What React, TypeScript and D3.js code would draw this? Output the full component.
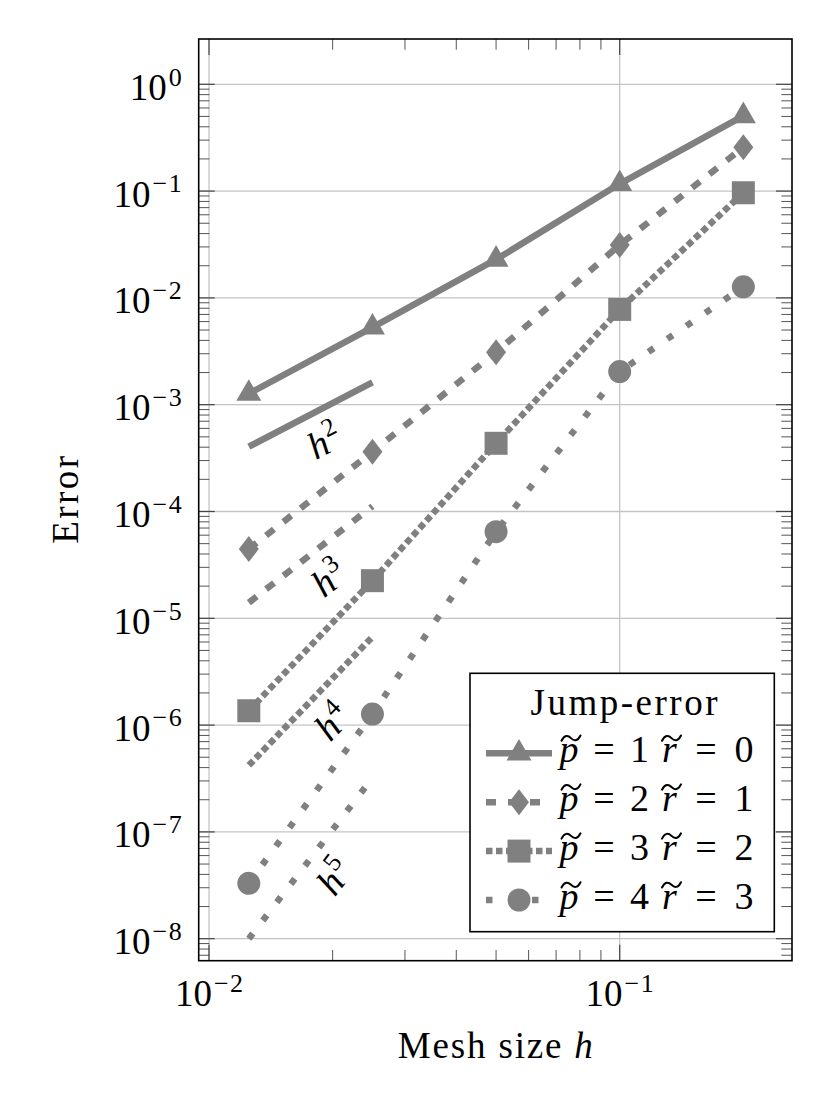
import React from 'react';
import * as d3 from 'd3';

// ---------- data ----------
const meshSizes = [0.0125, 0.025, 0.05, 0.1, 0.2];
const errP1 = [1.27e-3, 5.3e-3, 2.29e-2, 0.117, 0.505];
const errP2 = [4.45e-5, 3.63e-4, 3.1e-3, 3.13e-2, 0.257];
const errP3 = [1.36e-6, 2.25e-5, 4.35e-4, 7.8e-3, 0.0966];
const errP4 = [3.3e-8, 1.27e-6, 6.47e-5, 2.04e-3, 0.0127];
const pTilde = ['1', '2', '3', '4'];
const rTilde = ['0', '1', '2', '3'];

const refMesh = [0.0125, 0.025];
const refOrders = ['2', '3', '4', '5'];
const refStart = [4.04e-4, 1.4e-5, 4.2e-7, 1.0e-8];
const refEnd = [1.616e-3, 1.12e-4, 6.7e-6, 3.2e-7];

const xTickExps = [-2, -1];
const yTickExps = [0, -1, -2, -3, -4, -5, -6, -7, -8];
const minorMults = [2, 3, 4, 5, 6, 7, 8, 9];

// ---------- style ----------
const W = 832;
const H = 1110;
const L = 198.7, R = 792, T = 39, B = 960.7;
const GRAY = '#808080';
const LW = 6.5;
const FONT = '"Liberation Serif", "Times New Roman", serif';
const dashes = [null, '10 12', '6.5 3.5', '6.5 16.5'];
const markers = ['triangle', 'diamond', 'square', 'circle'];
const seriesValues = [errP1, errP2, errP3, errP4];

const x = d3.scaleLog().domain([Math.pow(10, -2.0251), Math.pow(10, -0.5805)]).range([L, R]);
const y = d3.scaleLog().domain([Math.pow(10, -8.206), Math.pow(10, 0.424)]).range([B, T]);

const lineGen = d3.line<[number, number]>().x(d => x(d[0])).y(d => y(d[1]));

function markerPath(kind: string): string {
  switch (kind) {
    case 'triangle':
      return 'M0,-14.4L12.5,7.2L-12.5,7.2Z';
    case 'diamond':
      return 'M0,-13L10,0L0,13L-10,0Z';
    case 'square':
      return 'M-11.5,-11.5H11.5V11.5H-11.5Z';
    default:
      return 'M-11.5,0A11.5,11.5 0 1,0 11.5,0A11.5,11.5 0 1,0 -11.5,0Z';
  }
}

function Marker({ kind, cx, cy }: { kind: string; cx: number; cy: number }) {
  return <path d={markerPath(kind)} transform={`translate(${cx},${cy})`} fill={GRAY} stroke="none" />;
}

// wide tilde accent (\widetilde) drawn over a glyph
const TILDE = 'M-9.5,2.5C-6.5,-3.5 -3,-3.2 0,-0.2C3,2.8 6.5,3.2 9.5,-2.8';

export default function App() {
  const xMajors = xTickExps.map(e => Math.pow(10, e));
  const yMajors = yTickExps.map(e => Math.pow(10, e));
  const [xd0, xd1] = x.domain();
  const [yd0, yd1] = y.domain();
  const xMinors: number[] = [];
  for (let e = xTickExps[0] - 1; e < xTickExps[xTickExps.length - 1]; e++) {
    minorMults.forEach(m => {
      const v = m * Math.pow(10, e);
      if (v > xd0 && v < xd1) xMinors.push(v);
    });
  }
  const yMinors: number[] = [];
  for (let e = yTickExps[yTickExps.length - 1] - 1; e < yTickExps[0]; e++) {
    minorMults.forEach(m => {
      const v = m * Math.pow(10, e);
      if (v > yd0 && v < yd1) yMinors.push(v);
    });
  }

  const legendX = 470, legendY = 673.3, legendW = 304.3, legendH = 258.4;
  const rowY0 = 753.3, rowStep = 48.9;
  const lineX0 = 486, lineX1 = 552;
  const glyphOffsets = [83, 118, 153.5, 183.5, 220, 258];

  return (
    <svg width={W} height={H} style={{ position: 'absolute', left: 0, top: 0, display: 'block' }} fontFamily={FONT}>
      <rect x={0} y={0} width={W} height={H} fill="#fff" />
      <defs>
        <clipPath id="plotClip">
          <rect x={L} y={T} width={R - L} height={B - T} />
        </clipPath>
      </defs>

      {/* grid */}
      {xMajors.map((v, i) => (
        <line key={'gx' + i} x1={x(v)} x2={x(v)} y1={T} y2={B} stroke="#c4c4c4" strokeWidth={1.3} />
      ))}
      {yMajors.map((v, i) => (
        <line key={'gy' + i} x1={L} x2={R} y1={y(v)} y2={y(v)} stroke="#c4c4c4" strokeWidth={1.3} />
      ))}

      {/* ticks */}
      {xMinors.map((v, i) => (
        <g key={'xm' + i} stroke="#555" strokeWidth={1}>
          <line x1={x(v)} x2={x(v)} y1={B} y2={B - 10.7} />
          <line x1={x(v)} x2={x(v)} y1={T} y2={T + 10.7} />
        </g>
      ))}
      {yMinors.map((v, i) => (
        <g key={'ym' + i} stroke="#555" strokeWidth={1}>
          <line x1={L} x2={L + 10.7} y1={y(v)} y2={y(v)} />
          <line x1={R} x2={R - 10.7} y1={y(v)} y2={y(v)} />
        </g>
      ))}
      {xMajors.map((v, i) => (
        <g key={'xM' + i} stroke="#444" strokeWidth={1.2}>
          <line x1={x(v)} x2={x(v)} y1={B} y2={B - 16} />
          <line x1={x(v)} x2={x(v)} y1={T} y2={T + 16} />
        </g>
      ))}
      {yMajors.map((v, i) => (
        <g key={'yM' + i} stroke="#444" strokeWidth={1.2}>
          <line x1={L} x2={L + 16} y1={y(v)} y2={y(v)} />
          <line x1={R} x2={R - 16} y1={y(v)} y2={y(v)} />
        </g>
      ))}

      {/* series and reference slopes */}
      <g clipPath="url(#plotClip)">
        {seriesValues.map((vals, si) => {
          const pts = meshSizes.map((h, i) => [h, vals[i]] as [number, number]);
          return (
            <g key={'s' + si}>
              <path d={lineGen(pts) || ''} fill="none" stroke={GRAY} strokeWidth={LW}
                strokeDasharray={dashes[si] || undefined} strokeLinejoin="round" />
              {pts.map((p, i) => (
                <Marker key={i} kind={markers[si]} cx={x(p[0])} cy={y(p[1])} />
              ))}
            </g>
          );
        })}
        {refOrders.map((o, ri) => {
          const pts: [number, number][] = [[refMesh[0], refStart[ri]], [refMesh[1], refEnd[ri]]];
          return (
            <path key={'r' + ri} d={lineGen(pts) || ''} fill="none" stroke={GRAY} strokeWidth={LW}
              strokeDasharray={dashes[ri] || undefined} />
          );
        })}
      </g>

      {/* slope labels */}
      {refOrders.map((o, ri) => {
        const x1 = x(refMesh[0]), y1 = y(refStart[ri]);
        const x2 = x(refMesh[1]), y2 = y(refEnd[ri]);
        const a = Math.atan2(y2 - y1, x2 - x1);
        const mx = (x1 + x2) / 2, my = (y1 + y2) / 2;
        const off = 31;
        const cx = mx - Math.sin(a) * off;
        const cy = my + Math.cos(a) * off;
        return (
          <text key={'rl' + ri} transform={`translate(${cx},${cy}) rotate(${(a * 180) / Math.PI})`}
            y={12} textAnchor="middle" fontSize={38} fill="#000" fontFamily={FONT}>
            <tspan fontStyle="italic">h</tspan>
            <tspan dy={-15} dx={1} fontSize={26}>{o}</tspan>
          </text>
        );
      })}

      {/* frame */}
      <rect x={L} y={T} width={R - L} height={B - T} fill="none" stroke="#000" strokeWidth={1.6} />

      {/* tick labels */}
      {yTickExps.map((e, i) => (
        <text key={'yl' + i} x={181.7} y={y(Math.pow(10, e)) + 15.6} textAnchor="end" fontSize={37} fill="#000" fontFamily={FONT}>
          10<tspan dy={-14.3} dx={2} fontSize={26}>{e === 0 ? '0' : '\u2212'}</tspan>
          {e === 0 ? null : <tspan dx={1.5} fontSize={26}>{String(Math.abs(e))}</tspan>}
        </text>
      ))}
      {xTickExps.map((e, i) => (
        <text key={'xl' + i} x={x(Math.pow(10, e))} y={1006} textAnchor="middle" fontSize={37} fill="#000" fontFamily={FONT}>
          10<tspan dy={-14.3} dx={2} fontSize={26}>{'\u2212'}</tspan>
          <tspan dx={1.5} fontSize={26}>{String(Math.abs(e))}</tspan>
        </text>
      ))}

      {/* axis labels */}
      <text x={(L + R) / 2} y={1058} textAnchor="middle" fontSize={37} fill="#000" fontFamily={FONT}
        textLength={195} lengthAdjust="spacing">
        Mesh size <tspan fontStyle="italic">h</tspan>
      </text>
      <text transform={`translate(78,${(T + B) / 2}) rotate(-90)`} textAnchor="middle" fontSize={37} fill="#000"
        fontFamily={FONT} textLength={88} lengthAdjust="spacing">
        Error
      </text>

      {/* legend */}
      <rect x={legendX} y={legendY} width={legendW} height={legendH} fill="#fff" stroke="#000" strokeWidth={1.6} />
      <text x={624} y={715} textAnchor="middle" fontSize={37} fill="#000" fontFamily={FONT}
        textLength={187} lengthAdjust="spacing">
        Jump-error
      </text>
      {seriesValues.map((_, si) => {
        const ry = rowY0 + si * rowStep;
        const mid = (lineX0 + lineX1) / 2;
        const base = ry + 8.5;
        const glyphs = ['p', '=', pTilde[si], 'r', '=', rTilde[si]];
        return (
          <g key={'lg' + si}>
            <line x1={lineX0} x2={lineX1} y1={ry} y2={ry} stroke={GRAY} strokeWidth={LW}
              strokeDasharray={dashes[si] || undefined} />
            <Marker kind={markers[si]} cx={mid} cy={ry} />
            <text y={base} fontSize={38} fill="#000" textAnchor="middle" fontFamily={FONT}>
              {glyphs.map((g, gi) => (
                <tspan key={gi} x={lineX0 + glyphOffsets[gi]} fontStyle={gi === 0 || gi === 3 ? 'italic' : 'normal'}>
                  {g}
                </tspan>
              ))}
            </text>
            {[0, 3].map(gi => (
              <path key={'t' + gi} d={TILDE} transform={`translate(${lineX0 + glyphOffsets[gi] + 2},${base - 23.5})`}
                fill="none" stroke="#000" strokeWidth={2} strokeLinecap="round" />
            ))}
          </g>
        );
      })}
    </svg>
  );
}
